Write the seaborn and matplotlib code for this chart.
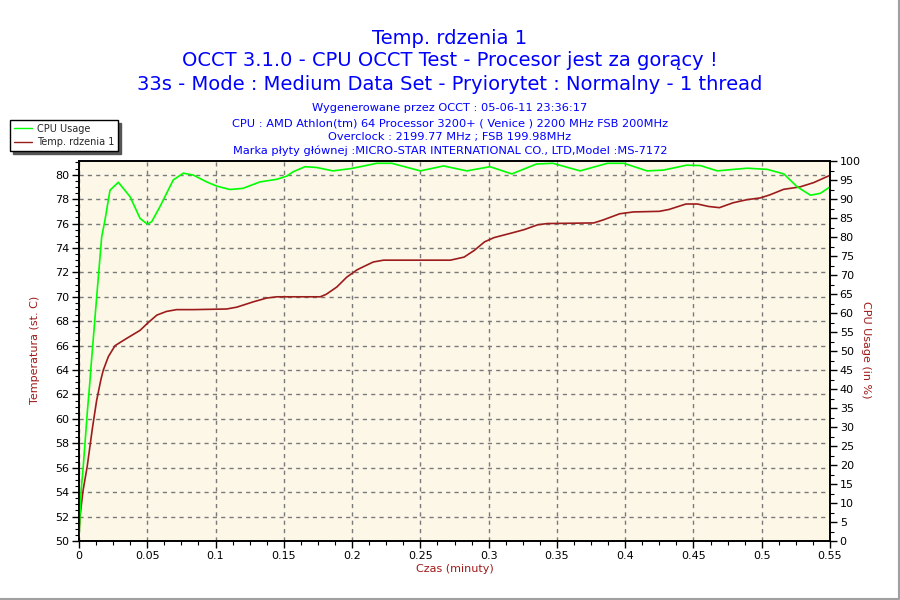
import matplotlib
matplotlib.use("Agg")
import matplotlib.pyplot as plt
import seaborn as sns
import pandas as pd
from matplotlib.lines import Line2D
from matplotlib.ticker import MultipleLocator

# ---- data ----
cpu_time = [0.0, 0.0015, 0.0032, 0.0061, 0.008, 0.0086, 0.0129, 0.0166, 0.019, 0.0227,
            0.0288, 0.0374, 0.0447, 0.050, 0.0532, 0.0593, 0.069, 0.0764, 0.0837, 0.0935,
            0.1008, 0.1106, 0.120, 0.1326, 0.145, 0.152, 0.157, 0.1656, 0.174, 0.186,
            0.199, 0.206, 0.218, 0.229, 0.250, 0.267, 0.284, 0.301, 0.317, 0.335,
            0.347, 0.367, 0.387, 0.399, 0.416, 0.428, 0.445, 0.455, 0.4675, 0.4796,
            0.4894, 0.504, 0.5162, 0.526, 0.5357, 0.543, 0.550]
cpu_usage = [1.0, 13.0, 20.0, 34.0, 42.0, 45.0, 64.0, 80.0, 84.4, 92.3,
             94.4, 90.6, 84.9, 83.4, 84.0, 88.0, 95.0, 96.8, 96.3, 94.5,
             93.4, 92.5, 92.8, 94.5, 95.2, 96.0, 97.2, 98.5, 98.3, 97.4,
             98.0, 98.5, 99.4, 99.4, 97.4, 98.7, 97.4, 98.5, 96.6, 99.2,
             99.4, 97.4, 99.4, 99.4, 97.4, 97.6, 98.9, 98.8, 97.4, 97.8,
             98.1, 97.8, 96.6, 93.2, 91.0, 91.5, 93.2]

temp_time = [0.0, 0.0007, 0.003, 0.006, 0.0099, 0.0129, 0.016, 0.0178, 0.0215, 0.0264,
             0.035, 0.0447, 0.0508, 0.057, 0.064, 0.0715, 0.0837, 0.108, 0.1155, 0.128,
             0.1375, 0.145, 0.1767, 0.181, 0.1888, 0.196, 0.2035, 0.208, 0.2155, 0.223,
             0.272, 0.282, 0.2895, 0.297, 0.304, 0.316, 0.326, 0.336, 0.343, 0.377,
             0.384, 0.396, 0.406, 0.425, 0.432, 0.4445, 0.453, 0.461, 0.469, 0.479,
             0.489, 0.499, 0.506, 0.516, 0.528, 0.538, 0.550]
temp_core = [50.5, 52.0, 54.15, 56.1, 59.3, 61.5, 63.2, 64.0, 65.1, 66.0,
             66.6, 67.25, 67.9, 68.5, 68.8, 68.95, 68.95, 69.0, 69.15, 69.6,
             69.9, 70.0, 70.0, 70.2, 70.8, 71.6, 72.2, 72.45, 72.85, 73.0,
             73.0, 73.25, 73.8, 74.5, 74.85, 75.2, 75.5, 75.9, 76.0, 76.05,
             76.3, 76.8, 76.95, 77.0, 77.15, 77.6, 77.6, 77.4, 77.3, 77.7,
             77.95, 78.1, 78.35, 78.8, 79.0, 79.35, 79.95]

x_ticks = [0, 0.05, 0.1, 0.15, 0.2, 0.25, 0.3, 0.35, 0.4, 0.45, 0.5, 0.55]
x_tick_labels = ["0", "0.05", "0.1", "0.15", "0.2", "0.25", "0.3", "0.35", "0.4", "0.45", "0.5", "0.55"]
left_ticks = list(range(50, 81, 2))
right_ticks = list(range(0, 101, 5))

title_lines = ["Temp. rdzenia 1",
               "OCCT 3.1.0 - CPU OCCT Test - Procesor jest za gorący !",
               "33s - Mode : Medium Data Set - Pryiorytet : Normalny - 1 thread"]
info_lines = ["Wygenerowane przez OCCT : 05-06-11 23:36:17",
              "CPU : AMD Athlon(tm) 64 Processor 3200+ ( Venice ) 2200 MHz FSB 200MHz",
              "Overclock : 2199.77 MHz ; FSB 199.98MHz",
              "Marka płyty głównej :MICRO-STAR INTERNATIONAL CO., LTD,Model :MS-7172"]
legend_labels = ["CPU Usage", "Temp. rdzenia 1"]

df_cpu = pd.DataFrame({"t": cpu_time, "v": cpu_usage})
df_temp = pd.DataFrame({"t": temp_time, "v": temp_core})

# ---- styling ----
sns.set_theme(style="white")
plt.rcParams["font.family"] = ["DejaVu Sans"]

W, H = 900, 600
fig = plt.figure(figsize=(9, 6), dpi=100)
fig.patch.set_facecolor("white")

L, R, T, B = 79, 830, 161, 541
ax = fig.add_axes([L / W, 1 - B / H, (R - L) / W, (B - T) / H])
ax.set_facecolor("#fdf7e8")
ax2 = ax.twinx()

red = "#9c1c1c"
green = "#00ff00"
label_red = "#a01818"
blue = "#0000ff"

sns.lineplot(data=df_temp, x="t", y="v", ax=ax, color=red, linewidth=1.2, sort=False, legend=False)
sns.lineplot(data=df_cpu, x="t", y="v", ax=ax2, color=green, linewidth=1.2, sort=False, legend=False)

ax.set_xlim(0, 0.55)
ax.set_ylim(50, 50 + (B - T) / 12.21)
ax2.set_ylim(0, 100)

ax.set_xticks(x_ticks)
ax.set_xticklabels(x_tick_labels)
ax.set_yticks(left_ticks)
ax2.set_yticks(right_ticks)
ax.xaxis.set_minor_locator(MultipleLocator(0.0125))
ax.yaxis.set_minor_locator(MultipleLocator(0.5))
ax2.yaxis.set_minor_locator(MultipleLocator(2.5))

for a in (ax, ax2):
    a.tick_params(axis="both", which="major", direction="out", length=5, width=1,
                  color="black", labelsize=8, labelcolor="black", pad=2)
    a.tick_params(axis="both", which="minor", direction="out", length=3, width=0.8, color="black")
    for s in a.spines.values():
        s.set_color("black")
        s.set_linewidth(1.2)
ax.tick_params(axis="x", which="both", bottom=True)
ax.tick_params(axis="y", which="both", left=True)
ax2.tick_params(axis="y", which="both", right=True)

ax.grid(True, which="major", axis="both", color="#7a7a7a", linestyle=(0, (3, 3)), linewidth=1)
ax2.grid(False)

ax.set_xlabel("")
ax.set_ylabel("")
ax2.set_ylabel("")

fig.text((L + R) / 2 / W, 1 - 569 / H, "Czas (minuty)", ha="center", va="center",
         color=label_red, fontsize=8)
fig.text(35 / W, 1 - 350 / H, "Temperatura (st. C)", ha="center", va="center",
         rotation=90, color=label_red, fontsize=8)
fig.text(866 / W, 1 - 350 / H, "CPU Usage (in %)", ha="center", va="center",
         rotation=270, color=label_red, fontsize=8)

# titles
for ypix, line in zip([38, 61, 84], title_lines):
    fig.text(0.5, 1 - ypix / H, line, ha="center", va="center", color=blue, fontsize=14)
for ypix, line in zip([108, 123, 137, 151], info_lines):
    fig.text(0.5, 1 - ypix / H, line, ha="center", va="center", color=blue, fontsize=8.2)

# legend (box with shadow)
handles = [Line2D([], [], color=green, lw=1), Line2D([], [], color=red, lw=1)]
leg = fig.legend(handles, legend_labels,
                 loc="upper left", bbox_to_anchor=(10 / W, 1 - 120 / H),
                 fontsize=7, frameon=True, fancybox=False, shadow={"color": "#555555", "alpha": 1},
                 borderpad=0.4, labelspacing=0.35, handlelength=1.9, handletextpad=0.5,
                 borderaxespad=0)
leg.get_frame().set_edgecolor("black")
leg.get_frame().set_linewidth(1)

# window border (right and bottom only)
fig.add_artist(Line2D([0, 898.5 / W, 898.5 / W], [1.5 / H, 1.5 / H, 1],
                      transform=fig.transFigure, color="#a0a0a0", linewidth=1.5))

fig.savefig("out.png", dpi=100)
